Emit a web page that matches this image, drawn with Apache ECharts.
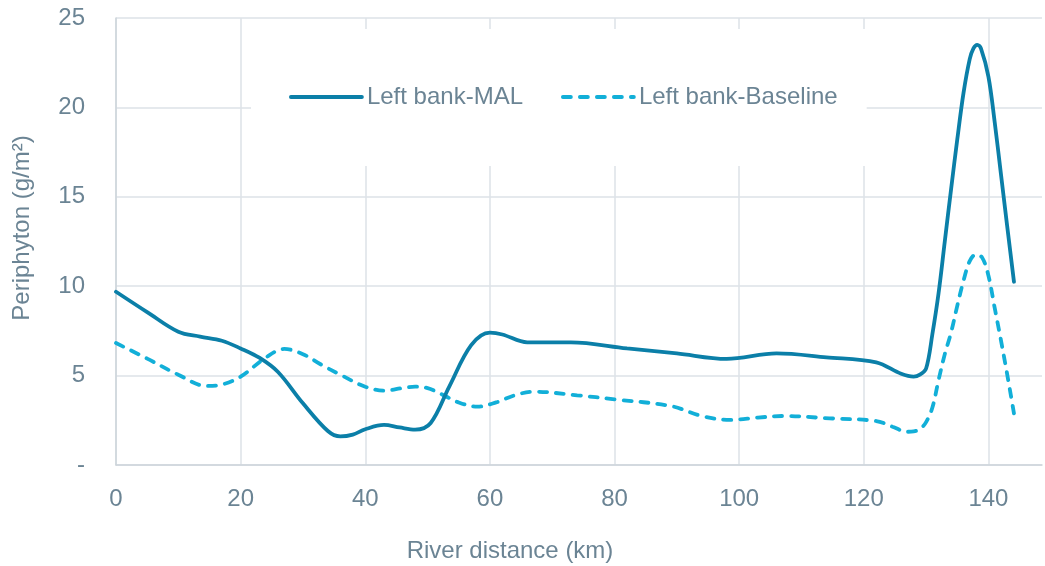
<!DOCTYPE html>
<html>
<head>
<meta charset="utf-8">
<script src="https://cdn.jsdelivr.net/npm/echarts@6/dist/echarts.min.js"></script>
<style>
  html, body { margin: 0; padding: 0; background: #ffffff; }
  #chart { width: 1045px; height: 566px; }
</style>
</head>
<body>
<div id="chart"></div>
<script>
// River distance (km) vs periphyton biomass (g/m²), left bank
const seriesNames = ['Left bank-MAL', 'Left bank-Baseline'];

const malDistance = [0, 5, 10, 13.5, 17, 20, 23, 26, 30, 34, 36, 38, 40, 43, 45.5, 48, 50.5, 53.5, 57, 60, 62, 66, 73, 82, 90, 98, 106, 114, 122, 126, 128, 129, 130, 131, 132, 133, 134, 135, 136, 137, 137.6, 138.2, 138.8, 140, 141, 142, 143, 144.1];
const malPeriphyton = [9.69, 8.55, 7.45, 7.18, 6.95, 6.52, 6.0, 5.2, 3.45, 1.9, 1.6, 1.7, 2.0, 2.24, 2.1, 1.98, 2.35, 4.4, 6.7, 7.4, 7.3, 6.86, 6.86, 6.52, 6.24, 5.93, 6.24, 6.02, 5.74, 5.1, 4.94, 5.05, 5.4, 7.3, 9.6, 12.5, 15.4, 18.2, 20.8, 22.7, 23.3, 23.5, 23.3, 21.72, 19.2, 16.3, 13.4, 10.25];

const baseDistance = [0, 5, 10, 14.5, 17, 20, 24, 27, 30, 33, 36, 40, 43, 46, 48, 50, 52, 55, 58, 61, 64, 67, 74, 80, 89, 94, 98.5, 103, 107, 114.5, 122, 124.6, 127, 128, 129, 130, 131, 132, 133, 134, 135, 136, 137, 138, 139, 140, 141, 142, 143, 144.1];
const basePeriphyton = [6.82, 5.95, 5.05, 4.42, 4.5, 4.94, 6.0, 6.49, 6.2, 5.6, 5.05, 4.38, 4.16, 4.3, 4.38, 4.3, 4.0, 3.5, 3.26, 3.5, 3.9, 4.1, 3.9, 3.67, 3.3, 2.74, 2.52, 2.65, 2.74, 2.61, 2.46, 2.14, 1.86, 1.88, 2.0, 2.4, 3.2, 4.75, 6.2, 7.4, 8.9, 10.3, 11.4, 11.78, 11.6, 10.6, 8.8, 7.0, 5.1, 2.89];

const xTicks = [0, 20, 40, 60, 80, 100, 120, 140];
const yTicks = [0, 5, 10, 15, 20, 25];

const textColor = '#6b8494';
const gridColor = '#dde2e7';
const font = 'Liberation Sans, Arial, sans-serif';

const pairs = (xs, ys) => xs.map((x, i) => [x, ys[i]]);

const chart = echarts.init(document.getElementById('chart'), null, { renderer: 'canvas' });

chart.setOption({
  animation: false,
  backgroundColor: '#ffffff',
  grid: { left: 116, right: 0, top: 18, bottom: 101, containLabel: false },
  xAxis: {
    type: 'value',
    min: 0,
    max: 148.6,
    interval: 20,
    axisLine: { show: true, lineStyle: { color: '#cdd4da', width: 1.5 } },
    axisTick: { show: false },
    splitLine: { show: true, showMaxLine: false, lineStyle: { color: gridColor, width: 1.5 } },
    axisLabel: {
      color: textColor, fontSize: 24, fontFamily: font, margin: 22,
      formatter: v => (xTicks.indexOf(v) >= 0 ? String(v) : '')
    }
  },
  yAxis: {
    type: 'value',
    min: 0,
    max: 25,
    interval: 5,
    axisLine: { show: true, lineStyle: { color: '#cdd4da', width: 1.5 } },
    axisTick: { show: false },
    splitLine: { show: true, lineStyle: { color: gridColor, width: 1.5 } },
    axisLabel: {
      color: textColor, fontSize: 24, fontFamily: font, margin: 31,
      formatter: v => (yTicks.indexOf(v) >= 0 ? (v === 0 ? '-' : String(v)) : '')
    }
  },
  legend: {
    left: 251,
    top: 29,
    padding: [56, 29, 57, 38],
    backgroundColor: '#ffffff',
    itemWidth: 71,
    itemHeight: 14,
    itemGap: 38,
    itemStyle: { opacity: 0 },
    lineStyle: { width: 3.8 },
    textStyle: { color: textColor, fontSize: 24, fontFamily: font, lineHeight: 24 },
    data: seriesNames
  },
  graphic: [
    {
      type: 'text',
      rotation: Math.PI / 2,
      x: 22, y: 228,
      style: {
        text: 'Periphyton (g/m²)', fill: textColor, fontSize: 24, fontFamily: font,
        align: 'center', verticalAlign: 'middle'
      }
    },
    {
      type: 'text',
      x: 510, y: 551,
      style: {
        text: 'River distance (km)', fill: textColor, fontSize: 24, fontFamily: font,
        align: 'center', verticalAlign: 'middle'
      }
    }
  ],
  series: [
    {
      name: seriesNames[0],
      type: 'line',
      data: pairs(malDistance, malPeriphyton),
      smooth: 0.35,
      showSymbol: false,
      symbol: 'none',
      z: 3,
      lineStyle: { color: '#0b7fa8', width: 3.8, cap: 'round' },
      itemStyle: { color: '#0b7fa8' }
    },
    {
      name: seriesNames[1],
      type: 'line',
      data: pairs(baseDistance, basePeriphyton),
      smooth: 0.35,
      showSymbol: false,
      symbol: 'none',
      z: 2,
      lineStyle: { color: '#12afd8', width: 3.8, type: [8, 9], cap: 'round' },
      itemStyle: { color: '#12afd8' }
    }
  ]
});
</script>
</body>
</html>
